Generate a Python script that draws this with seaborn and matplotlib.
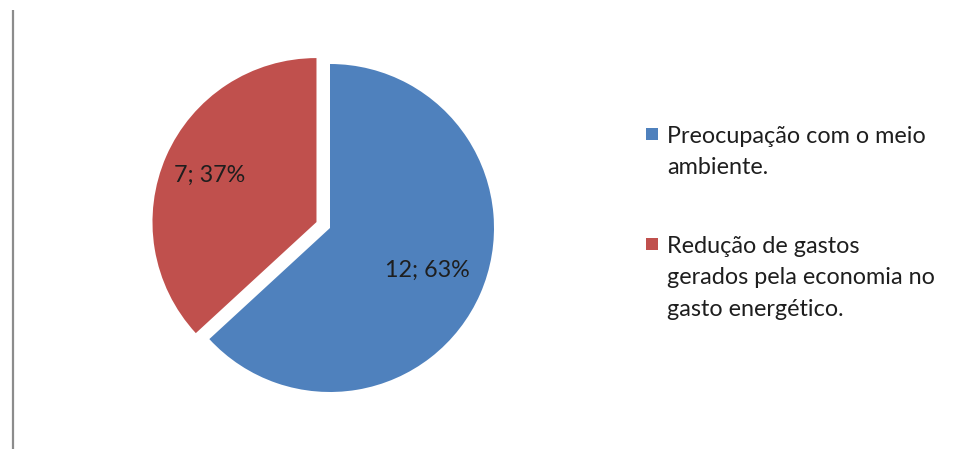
import numpy as np
import matplotlib
matplotlib.use("Agg")
import matplotlib.pyplot as plt
from matplotlib.patches import Rectangle
import seaborn as sns

# Survey answers: reason for saving energy
categories = [
    "Preocupação com o meio\nambiente.",
    "Redução de gastos\ngerados pela economia no\ngasto energético.",
]
counts = [12, 7]
colors = ["#4F81BD", "#C0504D"]
explode_frac = [0.0, 0.09]

sns.set_theme(style="white")
plt.rcParams["font.family"] = ["Lato", "DejaVu Sans"]

W, H = 974, 449
fig = plt.figure(figsize=(W / 100, H / 100), dpi=100)
ax = fig.add_axes([0, 0, 1, 1])
ax.set_xlim(0, W)
ax.set_ylim(0, H)
ax.set_aspect("equal")
ax.axis("off")

text_color = "#1e1e1e"
font_size = 16.8

total = sum(counts)
radius = 164
center = (330, H - 228)

# pie offsets are applied in data units, so scale the fractions by the radius
wedges, _, autotexts = ax.pie(
    counts,
    colors=colors,
    explode=[e * radius for e in explode_frac],
    startangle=90,
    counterclock=False,
    radius=radius,
    center=center,
    autopct=lambda p: f"{int(round(p * total / 100))}; {p:.0f}%",
    pctdistance=0.68,
    wedgeprops=dict(linewidth=0),
    textprops=dict(fontsize=font_size, color=text_color),
    frame=True,
)
ax.set_xlim(0, W)
ax.set_ylim(0, H)
ax.axis("off")

# place each value label inside its slice
for w, t, d in zip(wedges, autotexts, [0.65, 0.71]):
    ang = np.deg2rad((w.theta1 + w.theta2) / 2)
    cx, cy = w.center
    t.set_position((cx + d * radius * np.cos(ang), cy + d * radius * np.sin(ang)))
    t.set_ha("center")
    t.set_va("center")

# legend drawn on the right, one block per category
legend_x = 667
first_baselines = [H - 143, H - 253]
line_step = 31.5
sq = 12
for label, color, y0 in zip(categories, colors, first_baselines):
    ax.add_patch(Rectangle((legend_x - 21, y0 + 3), sq, sq, facecolor=color,
                           edgecolor="none"))
    for i, line in enumerate(label.split("\n")):
        ax.text(legend_x, y0 - i * line_step, line, fontsize=font_size,
                color=text_color, ha="left", va="baseline")

# left border line
ax.plot([13, 13], [0, H - 10], color="#8c8c8c", linewidth=1.6,
        solid_capstyle="butt")

fig.savefig("out.png", dpi=100, facecolor="white")
